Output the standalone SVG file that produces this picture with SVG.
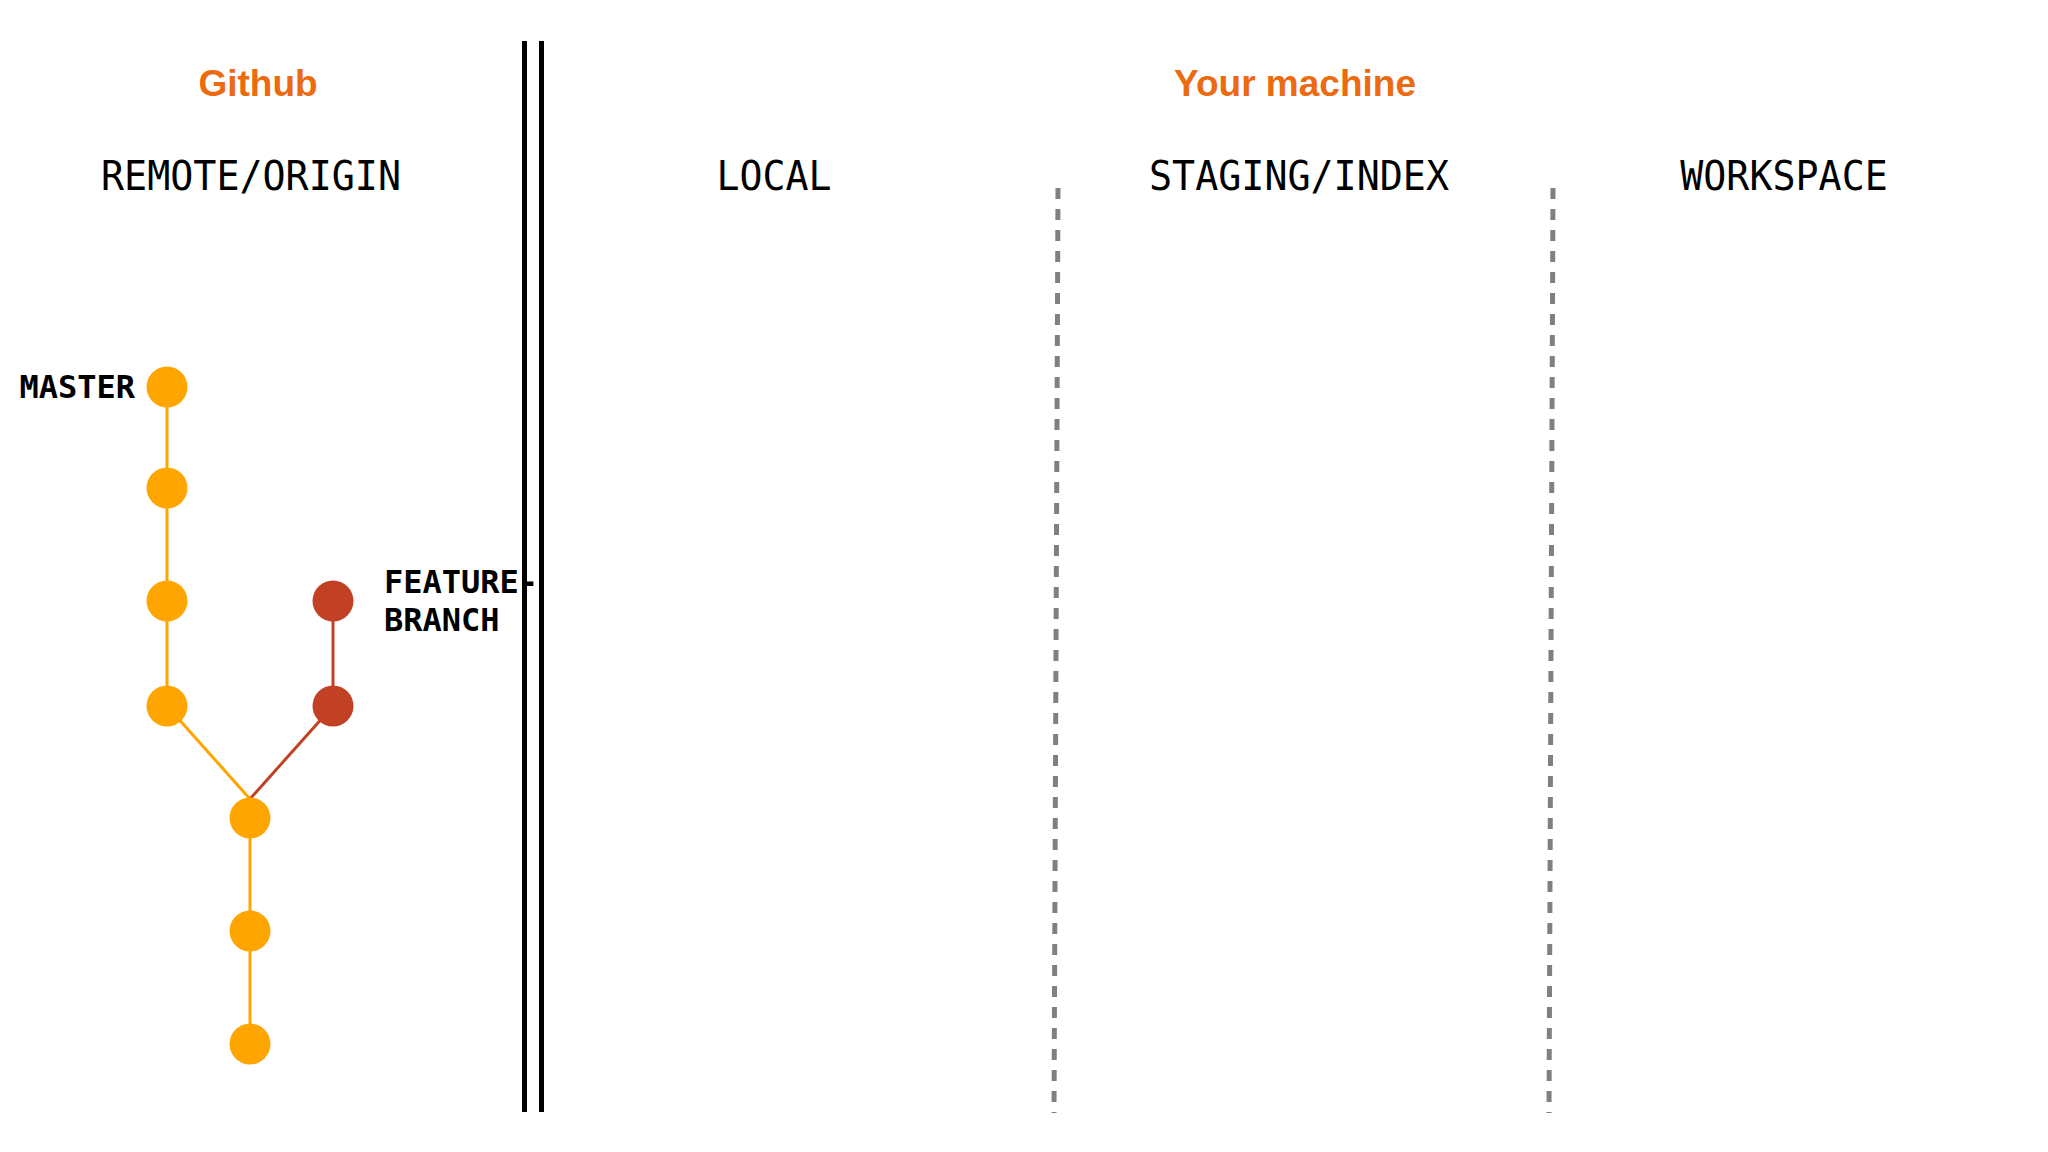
<svg xmlns="http://www.w3.org/2000/svg" width="2048" height="1152" viewBox="0 0 2048 1152">
  <style>
    .title { font-family: "Liberation Sans", Arial, sans-serif; font-weight: bold; font-size: 37px; fill: #EC6A10; text-anchor: middle; }
    .area { font-family: "DejaVu Sans Mono", "Liberation Mono", monospace; font-size: 40px; fill: #000; text-anchor: middle; }
    .branch { font-family: "DejaVu Sans Mono", "Liberation Mono", monospace; font-weight: bold; font-size: 32px; fill: #000; }
    .master { fill: #FFA500; }
    .feature { fill: #C24125; }
    .lm { stroke: #FFA500; stroke-width: 3; fill: none; }
    .lf { stroke: #C24125; stroke-width: 3; fill: none; }
    .wall { stroke: #000; stroke-width: 5; }
    .sep { stroke: #808080; stroke-width: 5; stroke-dasharray: 11 10; }
  </style>
  <rect width="2048" height="1152" fill="#FFFFFF"/>

  <g id="headers">
    <text class="title" x="258" y="96">Github</text>
    <text class="title" x="1295" y="96">Your machine</text>
    <text class="area" x="251" y="190" textLength="300" lengthAdjust="spacingAndGlyphs">REMOTE/ORIGIN</text>
    <text class="area" x="774" y="190" textLength="115" lengthAdjust="spacingAndGlyphs">LOCAL</text>
    <text class="area" x="1299" y="190" textLength="300" lengthAdjust="spacingAndGlyphs">STAGING/INDEX</text>
    <text class="area" x="1784" y="190" textLength="207.5" lengthAdjust="spacingAndGlyphs">WORKSPACE</text>
  </g>

  <g id="boundaries">
    <line class="wall" x1="524.5" y1="41" x2="524.5" y2="1112"/>
    <line class="wall" x1="541.5" y1="41" x2="541.5" y2="1112"/>
    <line class="sep" x1="1058" y1="188" x2="1054" y2="1113"/>
    <line class="sep" x1="1553" y1="188" x2="1549" y2="1113"/>
  </g>

  <g id="connectors">
    <line class="lm" x1="167" y1="387" x2="167" y2="706"/>
    <line class="lm" x1="167" y1="706" x2="250" y2="799"/>
    <line class="lm" x1="250" y1="818" x2="250" y2="1044"/>
    <line class="lf" x1="333" y1="601" x2="333" y2="706"/>
    <line class="lf" x1="333" y1="706" x2="250" y2="799"/>
  </g>

  <g id="commit-m1"><circle class="master" cx="167" cy="387" r="20.5"/></g>
  <g id="commit-m2"><circle class="master" cx="167" cy="488" r="20.5"/></g>
  <g id="commit-m3"><circle class="master" cx="167" cy="601" r="20.5"/></g>
  <g id="commit-m4"><circle class="master" cx="167" cy="706" r="20.5"/></g>
  <g id="commit-f1"><circle class="feature" cx="333" cy="601" r="20.5"/></g>
  <g id="commit-f2"><circle class="feature" cx="333" cy="706" r="20.5"/></g>
  <g id="commit-b1"><circle class="master" cx="250" cy="818" r="20.5"/></g>
  <g id="commit-b2"><circle class="master" cx="250" cy="931" r="20.5"/></g>
  <g id="commit-b3"><circle class="master" cx="250" cy="1044" r="20.5"/></g>

  <g id="label-master">
    <text class="branch" x="135" y="398" text-anchor="end">MASTER</text>
  </g>
  <g id="label-feature">
    <text class="branch" x="384" y="593">FEATURE-</text>
    <text class="branch" x="384" y="631">BRANCH</text>
  </g>
</svg>
